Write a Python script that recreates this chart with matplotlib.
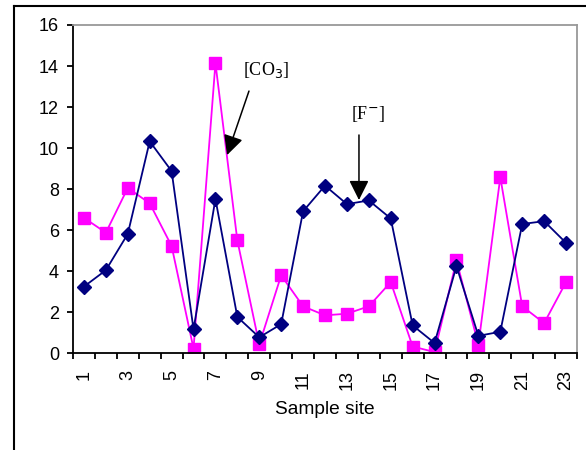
import numpy as np
import matplotlib.pyplot as plt
from matplotlib.lines import Line2D

################### DATOS ###################
sites = np.arange(1, 24)
fluor = [3.25, 4.05, 5.82, 10.33, 8.88, 1.17, 7.52, 1.77, 0.78, 1.42, 6.92, 8.17,
         7.27, 7.45, 6.57, 1.36, 0.5, 4.25, 0.85, 1.05, 6.3, 6.44, 5.38]
carb = [6.6, 5.88, 8.06, 7.31, 5.23, 0.23, 14.14, 5.5, 0.43, 3.8, 2.29, 1.85,
        1.93, 2.29, 3.47, 0.33, 0.06, 4.53, 0.42, 8.58, 2.29, 1.47, 3.47]
tick_labels = [str(s) if s % 2 == 1 else '' for s in sites]

################### FIGURA ###################
plt.rcParams['font.family'] = ['Liberation Sans', 'DejaVu Sans']
fig = plt.figure(figsize=(5.86, 4.5), dpi=100)
ax = fig.add_axes([73/586, 1-353.3/450, 504/586, 328.3/450])

ax.plot(sites, carb, color='#ff00ff', lw=1.3, marker='s', ms=8, mec='#ff00ff', zorder=2)
ax.plot(sites, fluor, color='#000080', lw=1.3, marker='D', ms=7, mec='#000080', zorder=3)

ax.set_xlim(0.5, 23.5)
ax.set_ylim(0, 16)
ax.set_yticks(range(0, 17, 2))
ax.set_xticks(sites)
ax.set_xticklabels(tick_labels, rotation=90, fontsize=13)
ax.set_xticks(np.arange(0.5, 24, 1), minor=True)
ax.tick_params(axis='x', which='major', length=0, pad=12)
ax.tick_params(axis='x', which='minor', length=4, width=1.3, direction='out')
ax.tick_params(axis='y', length=4, width=1.3, direction='out', labelsize=13, pad=6)
ax.set_xlabel('Sample site', fontsize=13.8, labelpad=8)

for s in ['left', 'bottom']:
    ax.spines[s].set_color('black')
    ax.spines[s].set_linewidth(1.3)
for s in ['top', 'right']:
    ax.spines[s].set_color('#999999')
    ax.spines[s].set_linewidth(1.3)

# Anotaciones
flecha = dict(arrowstyle='-|>,head_length=1.2,head_width=0.6',
              color='black', lw=1.1, shrinkA=0, shrinkB=0)
ax.annotate('', xy=(7.53, 9.66), xytext=(8.53, 12.78), arrowprops=flecha)
ax.text(9.31, 13.81, '[CO$_3$]', fontsize=13, family='Liberation Serif',
        ha='center', va='center')
ax.annotate('', xy=(13.55, 7.47), xytext=(13.55, 10.64), arrowprops=flecha)
ax.text(13.96, 11.66, '[F$^{-}$]', fontsize=13, family='Liberation Serif',
        ha='center', va='center')

# Marco exterior
fig.add_artist(Line2D([14/586, 14/586], [0, 1-6/450], color='black', lw=1.5))
fig.add_artist(Line2D([14/586, 1], [1-6/450, 1-6/450], color='black', lw=1.5))

fig.savefig('out.png', dpi=100)
